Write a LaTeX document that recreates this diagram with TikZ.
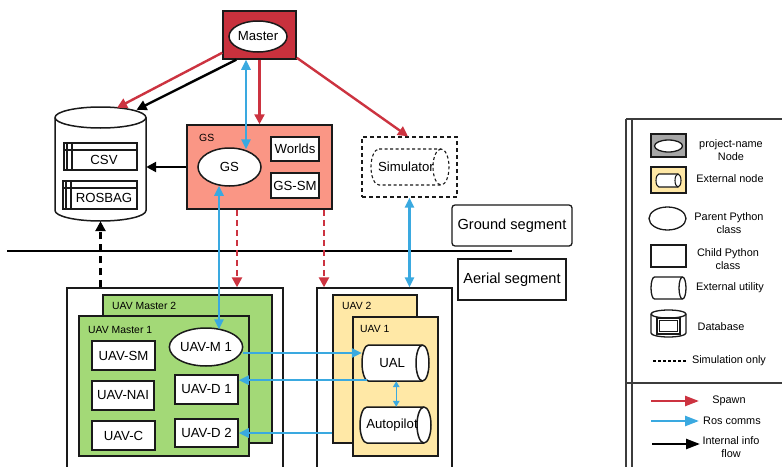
\documentclass[tikz,border=0pt]{standalone}
\usepackage{fontspec}
\setmainfont{Liberation Sans}
\usetikzlibrary{arrows.meta,shapes.geometric}

\definecolor{masterred}{HTML}{C8313D}
\definecolor{spawnred}{HTML}{CC3340}
\definecolor{gssalmon}{HTML}{FA9685}
\definecolor{uavgreen}{HTML}{A3D977}
\definecolor{uavyellow}{HTML}{FFE8A6}
\definecolor{rosblue}{HTML}{3AA9E0}
\definecolor{legendgray}{HTML}{A6A6A6}
\definecolor{edgec}{HTML}{1A1A1A}

\newcommand\fbig{\fontsize{13.2}{15}\selectfont}
\newcommand\fseg{\fontsize{14.6}{17}\selectfont}
\newcommand\fsmall{\fontsize{10.4}{12}\selectfont}
\newcommand\fleg{\fontsize{10.9}{13}\selectfont}

% horizontal cylinder with its cap on the right
% #1 style, #2 node name, #3..#6 x1 y1 x2 y2, #7 cap radius, #8 text
\newcommand\hcyl[8]{%
  \path[#1] ({#3+#7},#4) -- ({#5-#7},#4)
    arc[start angle=90,end angle=-90,x radius=#7pt,y radius={(#6-#4)/2*1pt}]
    -- ({#3+#7},#6)
    arc[start angle=270,end angle=90,x radius=#7pt,y radius={(#6-#4)/2*1pt}] -- cycle;
  \path[#1,fill=none] ({#5-#7},#4)
    arc[start angle=90,end angle=270,x radius=#7pt,y radius={(#6-#4)/2*1pt}];
  \node[inner sep=0pt,font=\fbig,minimum width={(#5-#3-#7)*1pt},minimum height={(#6-#4)*1pt}]
    (#2) at ({(#3+#5-#7)/2},{(#4+#6)/2}) {#8};%
}
% upright cylinder (database): #1 style, #2..#5 x1 y1 x2 y2, #6 lid radius
\newcommand\vcyl[6]{%
  \path[#1] (#2,{#3+#6}) -- (#2,{#5-#6})
    arc[start angle=180,end angle=360,x radius={(#4-#2)/2*1pt},y radius=#6pt]
    -- (#4,{#3+#6})
    arc[start angle=0,end angle=180,x radius={(#4-#2)/2*1pt},y radius=#6pt] -- cycle;
  \path[#1,fill=none] (#2,{#3+#6})
    arc[start angle=180,end angle=360,x radius={(#4-#2)/2*1pt},y radius=#6pt];%
}
% table icon inside the database
\newcommand\tabicon[4]{%
  \draw[edgec,line width=1.1pt,fill=white] (#1,#2) rectangle (#3,#4);
  \draw[edgec,line width=1.1pt] (#1,{#2+7}) -- (#3,{#2+7})
    ({#1+3},#2) -- ({#1+3},#4) ({#1+8},#2) -- ({#1+8},#4);%
}

\tikzset{
  sz/.style 2 args={minimum width=#1pt,minimum height=#2pt},
  pbox/.style={draw=edgec,line width=1.5pt,rectangle,inner sep=0pt,font=\fbig,fill=white},
  pell/.style={draw=edgec,line width=1.5pt,ellipse,inner sep=0pt,font=\fbig,fill=white},
  frame/.style={draw=edgec,line width=1.4pt,rectangle,inner sep=0pt},
  small/.style={font=\fsmall,anchor=west,inner sep=0pt},
  legtext/.style={font=\fleg,align=center,inner sep=0pt},
  spawn/.style={draw=spawnred,line width=2.4pt,-{Triangle[length=10pt,width=10pt]}},
  spawndash/.style={spawn,dash pattern=on 6pt off 4pt},
  ros/.style={draw=rosblue,line width=2.4pt,-{Triangle[length=10pt,width=9pt]}},
  rosboth/.style={draw=rosblue,line width=2.4pt,{Triangle[length=10pt,width=9pt]}-{Triangle[length=10pt,width=9pt]}},
  rossmall/.style={draw=rosblue,line width=1.5pt,{Triangle[length=6pt,width=6.5pt]}-{Triangle[length=6pt,width=6.5pt]}},
  info/.style={draw=black,line width=2.4pt,-{Triangle[length=10pt,width=10pt]}},
  infodash/.style={info,line width=2.8pt,dash pattern=on 7pt off 5pt},
  cyl/.style={draw=edgec,line width=1.5pt,fill=white},
  legline/.style={draw=edgec!85,line width=1.3pt},
}

\begin{document}
\begin{tikzpicture}[x=1pt,y=-1pt]
\useasboundingbox (0,0) rectangle (782,466);
\clip (0,0) rectangle (782,466);
\fill[white] (0,0) rectangle (782,466);

% ---------- ground segment ----------
\node[pbox,fill=masterred,sz={73}{48}] (master) at (259.5,35) {};
\node[pell,sz={58}{31}] (masterE) at (258,36.5) {Master};

% database
\vcyl{cyl}{55}{107}{146}{221}{10.5}
\node[inner sep=0pt,sz={91}{114}] (db) at (100.5,164) {};
\tabicon{64}{143}{137}{170}
\node[font=\fbig,inner sep=0pt] (csv) at (104,159.5) {CSV};
\tabicon{63}{181}{137}{209}
\node[font=\fbig,inner sep=0pt] (rosbag) at (104,198) {ROSBAG};

% ground station
\node[pbox,fill=gssalmon,sz={145}{84}] (gs) at (259.5,167) {};
\node[small] (gslabel) at (199,138) {GS};
\node[pell,sz={63}{38}] (gsE) at (229.5,167) {GS};
\node[pbox,sz={48}{24}] (worlds) at (295,149) {Worlds};
\node[pbox,sz={48}{25}] (gssm) at (295,185.5) {GS-SM};

% simulator
\node[draw=edgec,line width=1.3pt,dash pattern=on 4pt off 3pt,rectangle,inner sep=0pt,sz={95}{60}] (sim) at (409.5,167) {};
\hcyl{draw=edgec,line width=1.1pt,dash pattern=on 3pt off 2.5pt,fill=white}{simcyl}{371}{149}{449}{185}{8}{Simulator}

% segment labels and divider
\node[draw=edgec,line width=1.3pt,rounded corners=3pt,inner sep=0pt,font=\fseg,sz={120}{41}] (ground) at (512,225.5) {Ground segment};
\node[draw=edgec,line width=1.3pt,inner sep=0pt,font=\fseg,sz={108}{41}] (aerial) at (512,279.5) {Aerial segment};
\draw[black,line width=1.3pt] (7,251) -- (512,251);

% ---------- aerial segment ----------
\node[frame,fill=white,sz={216}{187}] (uavL) at (175,381.5) {};
\node[frame,fill=uavgreen,sz={169}{148}] (uavm2) at (187.5,369) {};
\node[small] (uavm2label) at (112,306) {UAV Master 2};
\node[frame,fill=uavgreen,sz={170}{140}] (uavm1) at (164,386) {};
\node[small] (uavm1label) at (88,330) {UAV Master 1};
\node[pbox,sz={63}{29}] (uavsm) at (123.5,355.5) {UAV-SM};
\node[pbox,sz={62}{29}] (uavnai) at (123,395.5) {UAV-NAI};
\node[pbox,sz={63}{29}] (uavc) at (123.5,435.5) {UAV-C};
\node[pell,sz={62}{38}] (uavm) at (206,347) {UAV-M 1};
\node[pbox,sz={63}{29}] (uavd1) at (206.5,389.5) {UAV-D 1};
\node[pbox,sz={63}{28}] (uavd2) at (206.5,433) {UAV-D 2};

\node[frame,fill=white,sz={135}{187}] (uavR) at (384.5,381.5) {};
\node[frame,fill=uavyellow,sz={84}{148}] (uav2) at (375,369) {};
\node[small] (uav2label) at (342,306) {UAV 2};
\node[frame,fill=uavyellow,sz={85}{139}] (uav1) at (395.5,386.5) {};
\node[small] (uav1label) at (360,329) {UAV 1};
\hcyl{cyl}{ual}{362}{345}{429}{381}{6.5}{UAL}
\hcyl{cyl}{ap}{360}{407}{431}{443}{7}{Autopilot}

% ---------- connectors ----------
\draw[spawn] ([yshift=7pt]master.south west) -- ([xshift=16.5pt,yshift=-1pt]db.north);
\draw[info] ([xshift=14pt]master.south west) -- ([xshift=36pt,yshift=-3pt]db.north);
\draw[rosboth] ([xshift=-13.5pt]master.south) -- ([xshift=16.5pt,yshift=-2pt]gsE.north);
\draw[spawn] (master.south) -- (gs.north);
\draw[spawn] ([yshift=2pt]master.south east) -- ([xshift=-1.5pt]sim.north);
\draw[info] (gs.west) -- (gs.west -| db.east);
\draw[rosboth] ([xshift=-10.5pt,yshift=1pt]gsE.south) -- ([xshift=13pt,yshift=-2pt]uavm.north);
\draw[spawndash] ([xshift=-22.5pt]gs.south) -- ([xshift=-22.5pt]gs.south |- uavL.north);
\draw[spawndash] ([xshift=64.5pt]gs.south) -- ([xshift=64.5pt]gs.south |- uavR.north);
\draw[rosboth] (sim.south) -- (sim.south |- uavR.north);
\draw[infodash] (db.south |- uavL.north) -- (db.south);

\coordinate (mOut) at ([yshift=-6pt]uavm.east);
\draw[ros] (mOut) -- (mOut -| ual.west);
\coordinate (ualOut) at ([xshift=5pt,yshift=1pt]ual.south west);
\draw[ros] (ualOut) -- (ualOut -| uavd1.east);
\draw[ros] (uavd2.east -| uav2.west) -- (uavd2.east);
\coordinate (ualDown) at ([xshift=4pt]ual.south);
\draw[rossmall] (ualDown) -- (ualDown |- ap.north);

% ---------- legend ----------
\draw[legline] (626,119) -- (790,119) (626,119) -- (626,470) (632,119) -- (632,470) (626,383) -- (790,383);

\node[frame,fill=legendgray,sz={35}{23}] (legNode) at (668.5,145.5) {};
\node[draw=edgec,line width=1.3pt,ellipse,fill=white,inner sep=0pt,sz={28}{12}] (legNodeE) at (668.5,146) {};
\node[legtext] (legNodeT) at (731,150.5) {project-name\\Node};

\node[frame,fill=uavyellow,sz={35}{26}] (legExt) at (668.5,180) {};
\hcyl{draw=edgec,line width=1.1pt,fill=white}{legExtC}{656}{174}{681}{187}{3}{}
\node[legtext] (legExtT) at (730,179) {External node};

\node[draw=edgec,line width=1.3pt,ellipse,inner sep=0pt,sz={37}{23}] (legPar) at (667.5,218.5) {};
\node[legtext] (legParT) at (729,223) {Parent Python\\class};

\node[frame,sz={35}{22}] (legChild) at (668.5,256) {};
\node[legtext] (legChildT) at (728,259.5) {Child Python\\class};

\hcyl{draw=edgec,line width=1.3pt,fill=white}{legUtil}{651}{277}{686}{299}{3.5}{}
\node[legtext] (legUtilT) at (730,288) {External utility};

\vcyl{draw=edgec,line width=1.3pt,fill=white}{651}{310}{686}{337}{4}
\draw[edgec,line width=1.3pt] (657,318) rectangle (680,334);
\draw[edgec,line width=1.1pt] (659.5,320.5) rectangle (677.5,331.5);
\node[inner sep=0pt,sz={35}{27}] (legDb) at (668.5,323.5) {};
\node[legtext] (legDbT) at (721,327) {Database};

\coordinate (legSimA) at (653,361);
\coordinate (legSimB) at (686,361);
\draw[black,line width=1.1pt,dash pattern=on 3pt off 2pt] (legSimA) -- (legSimB);
\node[legtext] (legSimT) at (729,361) {Simulation only};

\coordinate (legSpA) at (651,401);
\coordinate (legSpB) at (699,401);
\draw[draw=spawnred,line width=2.4pt,-{Triangle[length=14pt,width=10pt]}] (legSpA) -- (legSpB);
\node[legtext] (legSpT) at (729,401) {Spawn};

\coordinate (legRoA) at (651,421);
\coordinate (legRoB) at (699,421);
\draw[draw=rosblue,line width=2.4pt,-{Triangle[length=14pt,width=10pt]}] (legRoA) -- (legRoB);
\node[legtext] (legRoT) at (732,421) {Ros comms};

\coordinate (legInA) at (652,444);
\coordinate (legInB) at (700,444);
\draw[draw=black,line width=2.4pt,-{Triangle[length=14pt,width=10pt]}] (legInA) -- (legInB);
\node[legtext] (legInT) at (731,447) {Internal info\\flow};
\end{tikzpicture}
\end{document}
